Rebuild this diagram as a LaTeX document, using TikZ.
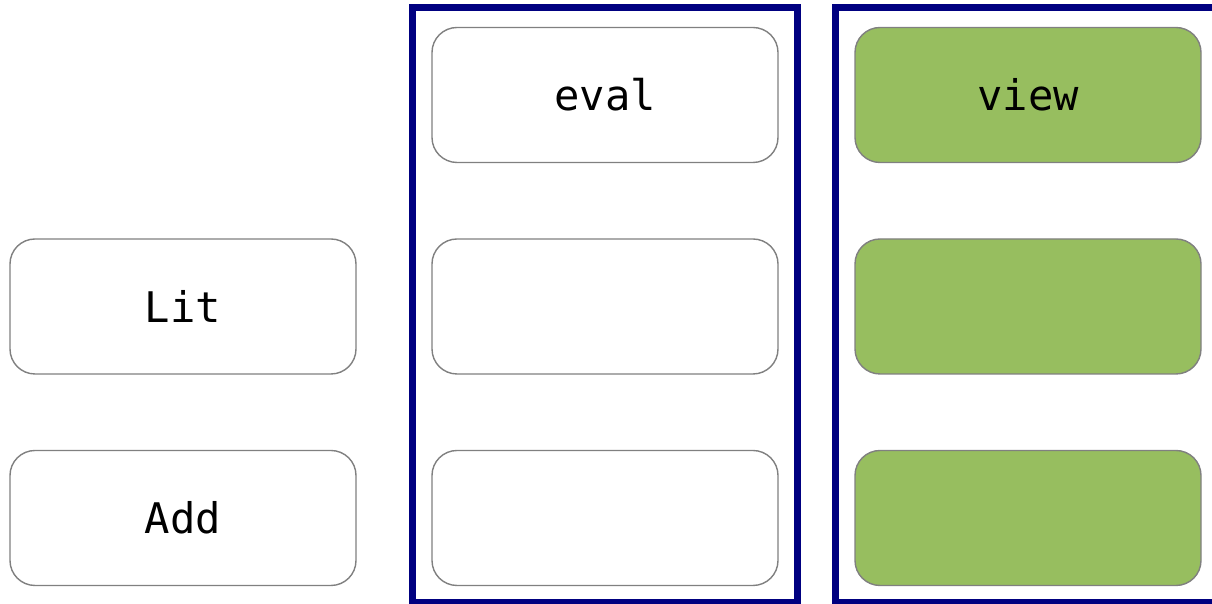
\documentclass[tikz,border=0pt]{standalone}
\usepackage{fontspec}
\setmonofont{DejaVu Sans Mono}
\usepackage{xcolor}
\usepackage{tikz}
\usetikzlibrary{positioning, fit}
\definecolor{framenavy}{RGB}{0,0,128}
\definecolor{viewgreen}{RGB}{151,190,95}

\begin{document}
\begin{tikzpicture}[
  font=\ttfamily\fontsize{12}{14}\selectfont,
  box/.style={draw=gray, line width=0.4pt, rounded corners=0.25cm,
    minimum width=3.46cm, minimum height=1.35cm, inner sep=0pt},
  greenbox/.style={box, fill=viewgreen},
  frame/.style={draw=framenavy, line width=2pt, inner xsep=0.19cm, inner ysep=0.175cm}
]
  \useasboundingbox (0,0) rectangle (12.12,6.04);

  % constructors
  \node[box] (lit) at (1.83,2.975) {Lit};
  \node[box] (add) at (1.83,0.86) {Add};

  % eval column
  \node[box] (eval) at (6.05,5.09) {eval};
  \node[box] (evallit) at (6.05,2.975) {};
  \node[box] (evaladd) at (6.05,0.86) {};

  % view column
  \node[greenbox] (view) at (10.28,5.09) {view};
  \node[greenbox] (viewlit) at (10.28,2.975) {};
  \node[greenbox] (viewadd) at (10.28,0.86) {};

  \node[frame, fit=(eval) (evaladd), yshift=0.015cm] (evalframe) {};
  \node[frame, fit=(view) (viewadd), yshift=0.015cm] (viewframe) {};
\end{tikzpicture}
\end{document}
